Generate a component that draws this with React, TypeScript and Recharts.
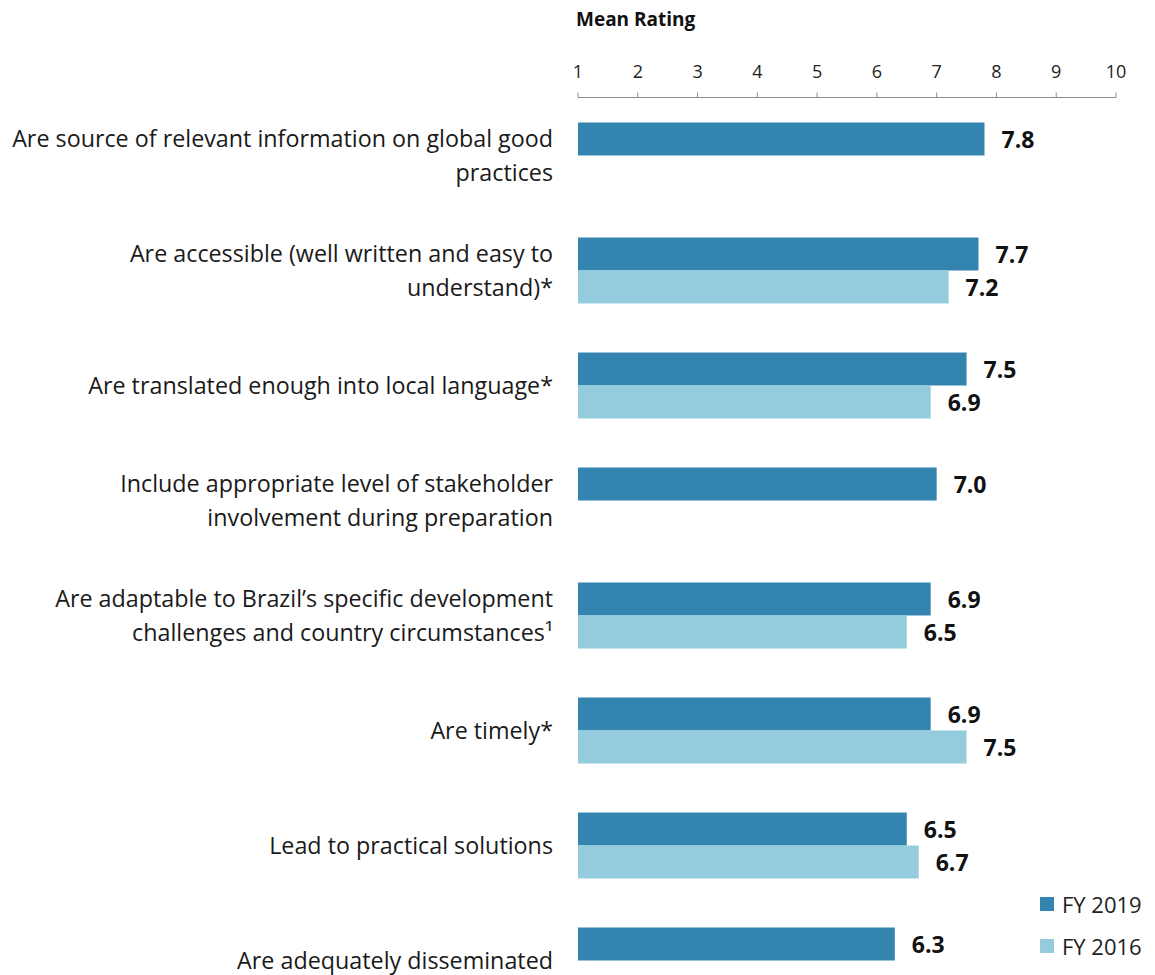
import { Bar, BarChart, LabelList, XAxis, YAxis } from "recharts";

const categories = [
	"Are source of relevant information on global good\npractices",
	"Are accessible (well written and easy to\nunderstand)*",
	"Are translated enough into local language*",
	"Include appropriate level of stakeholder\ninvolvement during preparation",
	"Are adaptable to Brazil\u2019s specific development\nchallenges and country circumstances\u00b9",
	"Are timely*",
	"Lead to practical solutions",
	"Are adequately disseminated",
];
const fy2019 = [7.8, 7.7, 7.5, 7.0, 6.9, 6.9, 6.5, 6.3];
const fy2016 = [null, 7.2, 6.9, null, 6.5, 7.5, 6.7, null];
const ticks = [1, 2, 3, 4, 5, 6, 7, 8, 9, 10];
const seriesNames = ["FY 2019", "FY 2016"];

const data = categories.map((name, i) => ({
	name,
	fy2019: fy2019[i],
	fy2016: fy2016[i],
}));

const FONT = "'Open Sans', sans-serif";
const DARK = "#3385b0";
const LIGHT = "#94ccdd";
const colors = [DARK, LIGHT];

function CategoryTick({ x, y, payload }: any) {
	const lines = String(payload.value).split("\n");
	const lh = 34;
	return (
		<text
			x={x}
			y={y}
			textAnchor="end"
			fontFamily={FONT}
			fontSize={23.3}
			fill="#1a1a1a"
		>
			{lines.map((l, i) => (
				<tspan
					key={i}
					x={x}
					y={y - ((lines.length - 1) * lh) / 2 + i * lh}
					dominantBaseline="central"
				>
					{l}
				</tspan>
			))}
		</text>
	);
}

function ValueLabel({ x, y, width, height, value }: any) {
	if (value == null) return null;
	return (
		<text
			x={x + width + 17}
			y={y + height / 2}
			dominantBaseline="central"
			fontFamily={FONT}
			fontWeight="bold"
			fontSize={23}
			fill="#111"
		>
			{Number(value).toFixed(1)}
		</text>
	);
}

export default function App() {
	return (
		<div
			style={{
				position: "absolute",
				left: 0,
				top: 0,
				width: 1155,
				height: 975,
				overflow: "hidden",
				background: "#fff",
			}}
		>
			<div
				style={{
					position: "absolute",
					left: 576,
					top: 6,
					fontFamily: FONT,
					fontWeight: "bold",
					fontSize: 19,
					color: "#111",
				}}
			>
				Mean Rating
			</div>
			<BarChart
				width={1155}
				height={1022}
				data={data}
				layout="vertical"
				margin={{ top: 57.5, right: 39, bottom: 4.5, left: 0 }}
				barSize={33}
				barGap={0}
			>
				<XAxis
					type="number"
					orientation="top"
					domain={[1, 10]}
					ticks={ticks}
					height={40}
					tickSize={5}
					tickMargin={15}
					stroke="#8c8c8c"
					tick={{ fill: "#222", fontSize: 18, fontFamily: FONT }}
				/>
				<YAxis
					type="category"
					dataKey="name"
					width={578}
					axisLine={false}
					tickLine={false}
					tickSize={0}
					tickMargin={25}
					interval={0}
					tick={<CategoryTick />}
				/>
				<Bar
					dataKey="fy2019"
					name={seriesNames[0]}
					fill={DARK}
					isAnimationActive={false}
				>
					<LabelList dataKey="fy2019" content={<ValueLabel />} />
				</Bar>
				<Bar
					dataKey="fy2016"
					name={seriesNames[1]}
					fill={LIGHT}
					isAnimationActive={false}
				>
					<LabelList dataKey="fy2016" content={<ValueLabel />} />
				</Bar>
			</BarChart>
			<div
				style={{
					position: "absolute",
					left: 1040,
					top: 883,
					fontFamily: FONT,
					fontSize: 22,
					color: "#222",
				}}
			>
				{seriesNames.map((n, i) => (
					<div
						key={n}
						style={{ display: "flex", alignItems: "center", height: 42 }}
					>
						<span
							style={{
								width: 14,
								height: 14,
								background: colors[i],
								marginRight: 8,
								display: "inline-block",
							}}
						/>
						{n}
					</div>
				))}
			</div>
		</div>
	);
}
